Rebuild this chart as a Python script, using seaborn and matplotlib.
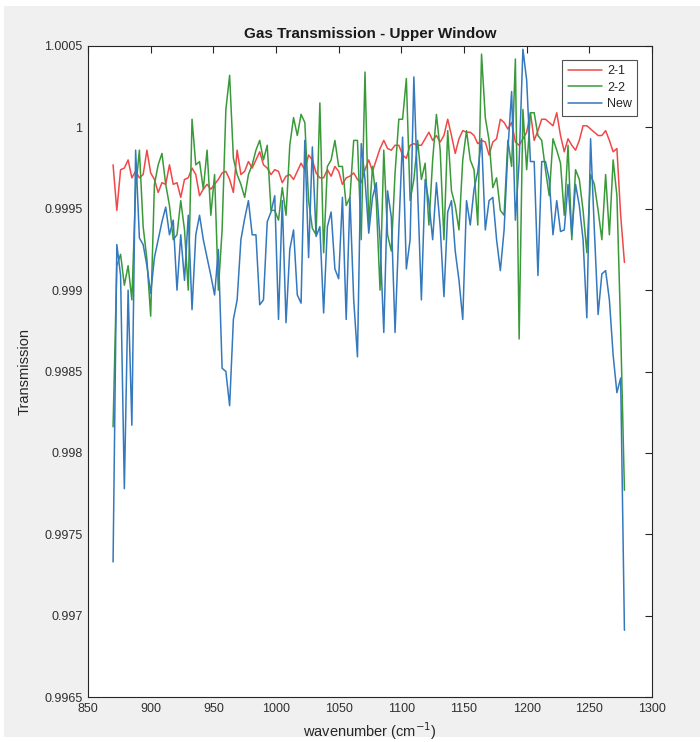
import numpy as np
import pandas as pd
import seaborn as sns
import matplotlib
matplotlib.use("Agg")
import matplotlib.pyplot as plt
from matplotlib.patches import Rectangle

# Wavenumber grid (cm^-1), 3 cm^-1 sampling
wavenumber = np.arange(870, 1279, 3)

trans_21 = [
    0.99977, 0.99949, 0.99974, 0.99975, 0.99980, 0.99969, 0.99973, 0.99969, 0.99971, 0.99986, 0.99972, 0.99968,
    0.99960, 0.99966, 0.99965, 0.99977, 0.99965, 0.99966, 0.99957, 0.99968, 0.99969, 0.99975, 0.99971, 0.99958,
    0.99962, 0.99965, 0.99962, 0.99965, 0.99968, 0.99972, 0.99973, 0.99968, 0.99960, 0.99986, 0.99971, 0.99973,
    0.99979, 0.99975, 0.99980, 0.99985, 0.99977, 0.99975, 0.99971, 0.99974, 0.99973, 0.99966, 0.99970, 0.99971,
    0.99968, 0.99973, 0.99978, 0.99974, 0.99983, 0.99980, 0.99972, 0.99969, 0.99969, 0.99974, 0.99970, 0.99976,
    0.99973, 0.99965, 0.99969, 0.99970, 0.99972, 0.99968, 0.99966, 0.99974, 0.99980, 0.99973, 0.99980, 0.99987,
    0.99992, 0.99987, 0.99986, 0.99989, 0.99989, 0.99983, 0.99981, 0.99989, 0.99990, 0.99989, 0.99989, 0.99993,
    0.99997, 0.99992, 0.99995, 0.99991, 0.99995, 1.00005, 0.99995, 0.99984, 0.99993, 0.99998, 0.99997, 0.99997,
    0.99995, 0.99990, 0.99992, 0.99991, 0.99983, 0.99991, 0.99993, 1.00005, 1.00003, 0.99999, 1.00003, 0.99991,
    0.99989, 0.99993, 0.99997, 1.00009, 0.99992, 0.99998, 1.00005, 1.00005, 1.00003, 1.00001, 1.00009, 0.99995,
    0.99985, 0.99993, 0.99989, 0.99986, 0.99992, 1.00001, 1.00001, 0.99999, 0.99997, 0.99995, 0.99995, 0.99998,
    0.99992, 0.99985, 0.99987, 0.99946, 0.99917,
]

trans_22 = [
    0.99816, 0.99915, 0.99922, 0.99903, 0.99915, 0.99894, 0.99962, 0.99986, 0.99939, 0.99919, 0.99884, 0.99965,
    0.99977, 0.99984, 0.99965, 0.99952, 0.99931, 0.99934, 0.99955, 0.99937, 0.99900, 1.00005, 0.99977, 0.99979,
    0.99962, 0.99986, 0.99946, 0.99971, 0.99900, 0.99937, 1.00011, 1.00032, 0.99981, 0.99971, 0.99965, 0.99957,
    0.99971, 0.99977, 0.99986, 0.99992, 0.99980, 0.99989, 0.99949, 0.99949, 0.99943, 0.99963, 0.99946, 0.99989,
    1.00006, 0.99995, 1.00008, 1.00003, 0.99955, 0.99938, 0.99934, 1.00015, 0.99923, 0.99976, 0.99980, 0.99992,
    0.99976, 0.99976, 0.99952, 0.99957, 0.99992, 0.99992, 0.99931, 1.00034, 0.99940, 0.99976, 0.99955, 0.99900,
    0.99986, 0.99934, 0.99924, 0.99972, 1.00005, 1.00005, 1.00030, 0.99955, 0.99968, 0.99992, 0.99968, 0.99978,
    0.99940, 0.99980, 1.00008, 0.99986, 0.99931, 0.99998, 0.99961, 0.99952, 0.99937, 0.99980, 0.99998, 0.99980,
    0.99974, 0.99940, 1.00045, 1.00006, 0.99992, 0.99963, 0.99969, 0.99949, 0.99946, 0.99992, 0.99976, 1.00042,
    0.99870, 1.00011, 0.99974, 1.00009, 1.00009, 0.99995, 0.99992, 0.99974, 0.99958, 0.99993, 0.99986, 0.99978,
    0.99946, 0.99989, 0.99931, 0.99974, 0.99968, 0.99949, 0.99923, 0.99971, 0.99965, 0.99949, 0.99931, 0.99971,
    0.99934, 0.99980, 0.99958, 0.99876, 0.99777,
]

trans_new = [
    0.99733, 0.99928, 0.99909, 0.99778, 0.99900, 0.99817, 0.99986, 0.99932, 0.99928, 0.99915, 0.99898, 0.99920,
    0.99931, 0.99942, 0.99951, 0.99934, 0.99943, 0.99900, 0.99934, 0.99906, 0.99946, 0.99888, 0.99934, 0.99946,
    0.99931, 0.99920, 0.99909, 0.99897, 0.99925, 0.99852, 0.99850, 0.99829, 0.99882, 0.99894, 0.99931, 0.99944,
    0.99955, 0.99934, 0.99934, 0.99891, 0.99894, 0.99942, 0.99948, 0.99958, 0.99882, 0.99955, 0.99880, 0.99925,
    0.99937, 0.99897, 0.99892, 0.99992, 0.99920, 0.99988, 0.99933, 0.99939, 0.99886, 0.99939, 0.99948, 0.99913,
    0.99907, 0.99957, 0.99882, 0.99957, 0.99894, 0.99859, 0.99990, 0.99968, 0.99935, 0.99957, 0.99966, 0.99931,
    0.99874, 0.99961, 0.99945, 0.99874, 0.99937, 0.99994, 0.99913, 0.99931, 1.00031, 0.99961, 0.99894, 0.99968,
    0.99954, 0.99931, 0.99966, 0.99939, 0.99896, 0.99948, 0.99955, 0.99924, 0.99906, 0.99882, 0.99955, 0.99940,
    0.99962, 0.99973, 0.99993, 0.99937, 0.99955, 0.99957, 0.99931, 0.99912, 0.99937, 0.99986, 1.00022, 0.99943,
    0.99979, 1.00048, 1.00029, 0.99979, 0.99979, 0.99909, 0.99979, 0.99979, 0.99968, 0.99934, 0.99955, 0.99936,
    0.99937, 0.99965, 0.99934, 0.99965, 0.99952, 0.99931, 0.99883, 0.99993, 0.99937, 0.99885, 0.99910, 0.99912,
    0.99894, 0.99860, 0.99837, 0.99846, 0.99691,
]

series_names = ["2-1", "2-2", "New"]
series_colors = ["#f04848", "#3a9a3a", "#3478bd"]

x_ticks = [850, 900, 950, 1000, 1050, 1100, 1150, 1200, 1250, 1300]
y_ticks = [0.9965, 0.997, 0.9975, 0.998, 0.9985, 0.999, 0.9995, 1.0, 1.0005]
y_tick_labels = ["0.9965", "0.997", "0.9975", "0.998", "0.9985", "0.999", "0.9995", "1", "1.0005"]

df = pd.concat([
    pd.DataFrame({"wavenumber": wavenumber, "Transmission": vals, "series": name})
    for name, vals in zip(series_names, [trans_21, trans_22, trans_new])
], ignore_index=True)

sns.set_style("white")
plt.rcParams["font.family"] = ["Liberation Sans", "DejaVu Sans"]

fig = plt.figure(figsize=(7.0, 7.42), dpi=100, facecolor="white")
fig.patches.append(Rectangle((4 / 700, 5 / 742), 696 / 700, 731 / 742,
                             transform=fig.transFigure, facecolor="#f0f0f0",
                             edgecolor="none", zorder=-10))
ax = fig.add_axes([88 / 700, 1 - 697 / 742, 564 / 700, 651 / 742])
ax.set_facecolor("white")

sns.lineplot(data=df, x="wavenumber", y="Transmission", hue="series",
             palette=dict(zip(series_names, series_colors)), estimator=None,
             linewidth=1.1, ax=ax, legend=True)

ax.set_xlim(850, 1300)
ax.set_ylim(0.9965, 1.0005)
ax.set_xticks(x_ticks)
ax.set_xticklabels([str(t) for t in x_ticks])
ax.set_yticks(y_ticks)
ax.set_yticklabels(y_tick_labels)
ax.tick_params(direction="in", length=5, width=0.8, colors="#262626",
               labelsize=9, top=True, right=True, labelcolor="#303030", pad=4)
for sp in ax.spines.values():
    sp.set_visible(True)
    sp.set_color("#262626")
    sp.set_linewidth(0.8)

ax.set_title("Gas Transmission - Upper Window", fontsize=11, fontweight="bold",
             color="#1a1a1a", pad=6)
ax.set_xlabel("wavenumber (cm$^{-1}$)", fontsize=10.5, color="#262626", labelpad=4)
ax.set_ylabel("Transmission", fontsize=10.5, color="#262626", labelpad=9)

leg = ax.legend(loc="upper right", bbox_to_anchor=(0.974, 0.979), fontsize=9,
                frameon=True, fancybox=False, handlelength=2.7, handletextpad=0.4,
                borderpad=0.45, labelspacing=0.35, borderaxespad=0.0)
leg.get_frame().set_edgecolor("#262626")
leg.get_frame().set_linewidth(0.8)
for t in leg.get_texts():
    t.set_color("#262626")

fig.savefig("out.png", dpi=100, facecolor=fig.get_facecolor())
